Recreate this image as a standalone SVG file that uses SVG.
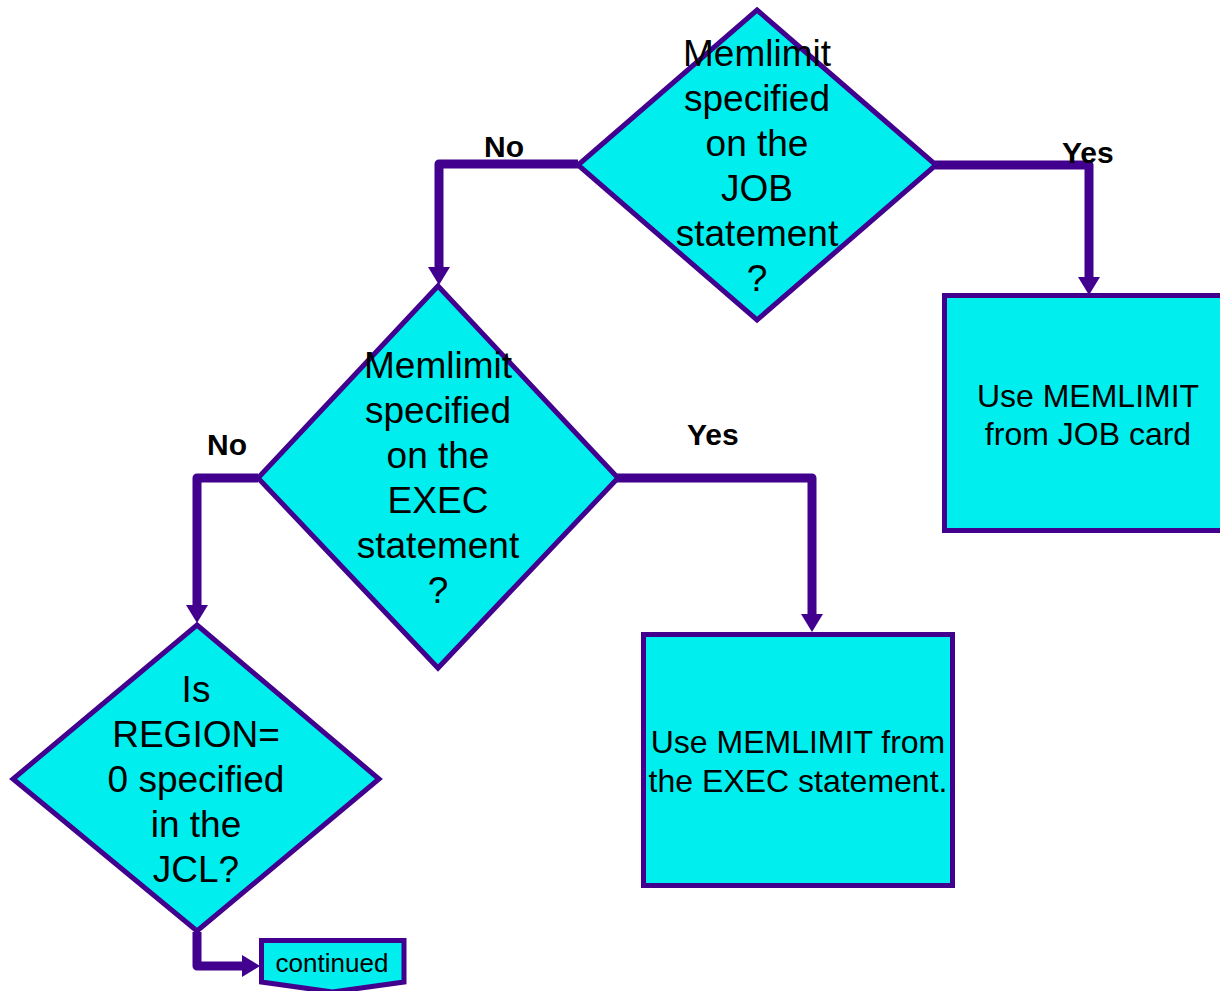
<svg xmlns="http://www.w3.org/2000/svg" width="1220" height="991" viewBox="0 0 1220 991">
<style>
.shape{fill:#00EEEE;stroke:#42008F;stroke-width:5;stroke-linejoin:miter}
.t{font-family:"Liberation Sans",Arial,sans-serif;fill:#000;text-anchor:middle}
.dt{font-size:37px}
.bt{font-size:32px}
.lbl{font-family:"Liberation Sans",Arial,sans-serif;font-size:30px;font-weight:bold;fill:#000}
.conn{fill:none;stroke:#42008F;stroke-width:9;stroke-linejoin:round;stroke-linecap:butt}
</style>
<defs>
<marker id="arr" markerUnits="userSpaceOnUse" markerWidth="18" markerHeight="22" viewBox="0 -11 18 22" refX="0" refY="0" orient="auto" overflow="visible">
<path d="M0,-11 L18,0 L0,11 z" fill="#42008F"/>
</marker>
</defs>
<rect width="1220" height="991" fill="#fff"/>
<g id="connectors">
<path class="conn" d="M578,164 H439 V267" marker-end="url(#arr)"/>
<path class="conn" d="M935,165 H1089 V277" marker-end="url(#arr)"/>
<path class="conn" d="M258,478 H197 V605" marker-end="url(#arr)"/>
<path class="conn" d="M617,478 H812 V614" marker-end="url(#arr)"/>
<path class="conn" d="M197,932 V966 H242" marker-end="url(#arr)"/>
<text class="lbl" x="484" y="157">No</text>
<text class="lbl" x="1062" y="163">Yes</text>
<text class="lbl" x="207" y="455">No</text>
<text class="lbl" x="687" y="445">Yes</text>
</g>
<g id="decision-job">
<polygon class="shape" points="757,10 936,165 757,320 578,165"/>
<text class="t dt"><tspan x="757" y="66">Memlimit</tspan><tspan x="757" y="111">specified</tspan><tspan x="757" y="156">on the</tspan><tspan x="757" y="201">JOB</tspan><tspan x="757" y="246">statement</tspan><tspan x="757" y="291">?</tspan></text>
</g>
<g id="decision-exec">
<polygon class="shape" points="438,286 618,478 438,668 258,478"/>
<text class="t dt"><tspan x="438" y="378">Memlimit</tspan><tspan x="438" y="423">specified</tspan><tspan x="438" y="468">on the</tspan><tspan x="438" y="513">EXEC</tspan><tspan x="438" y="558">statement</tspan><tspan x="438" y="603">?</tspan></text>
</g>
<g id="decision-region">
<polygon class="shape" points="197,625 379,779 197,931 13,779"/>
<text class="t dt"><tspan x="196" y="702">Is</tspan><tspan x="196" y="747">REGION=</tspan><tspan x="196" y="792">0 specified</tspan><tspan x="196" y="837">in the</tspan><tspan x="196" y="882">JCL?</tspan></text>
</g>
<g id="box-job">
<rect class="shape" x="944.5" y="295.5" width="287" height="235"/>
<text class="t bt"><tspan x="1088" y="407">Use MEMLIMIT</tspan><tspan x="1088" y="445">from JOB card</tspan></text>
</g>
<g id="box-exec">
<rect class="shape" x="643.5" y="634.5" width="309" height="251"/>
<text class="t bt"><tspan x="798" y="753">Use MEMLIMIT from</tspan><tspan x="798" y="792">the EXEC statement.</tspan></text>
</g>
<g id="continued">
<polygon class="shape" points="261.5,940.5 404,940.5 404,982 332.5,992 261.5,982"/>
<text class="t" style="font-size:26px" x="332" y="972">continued</text>
</g>
</svg>
